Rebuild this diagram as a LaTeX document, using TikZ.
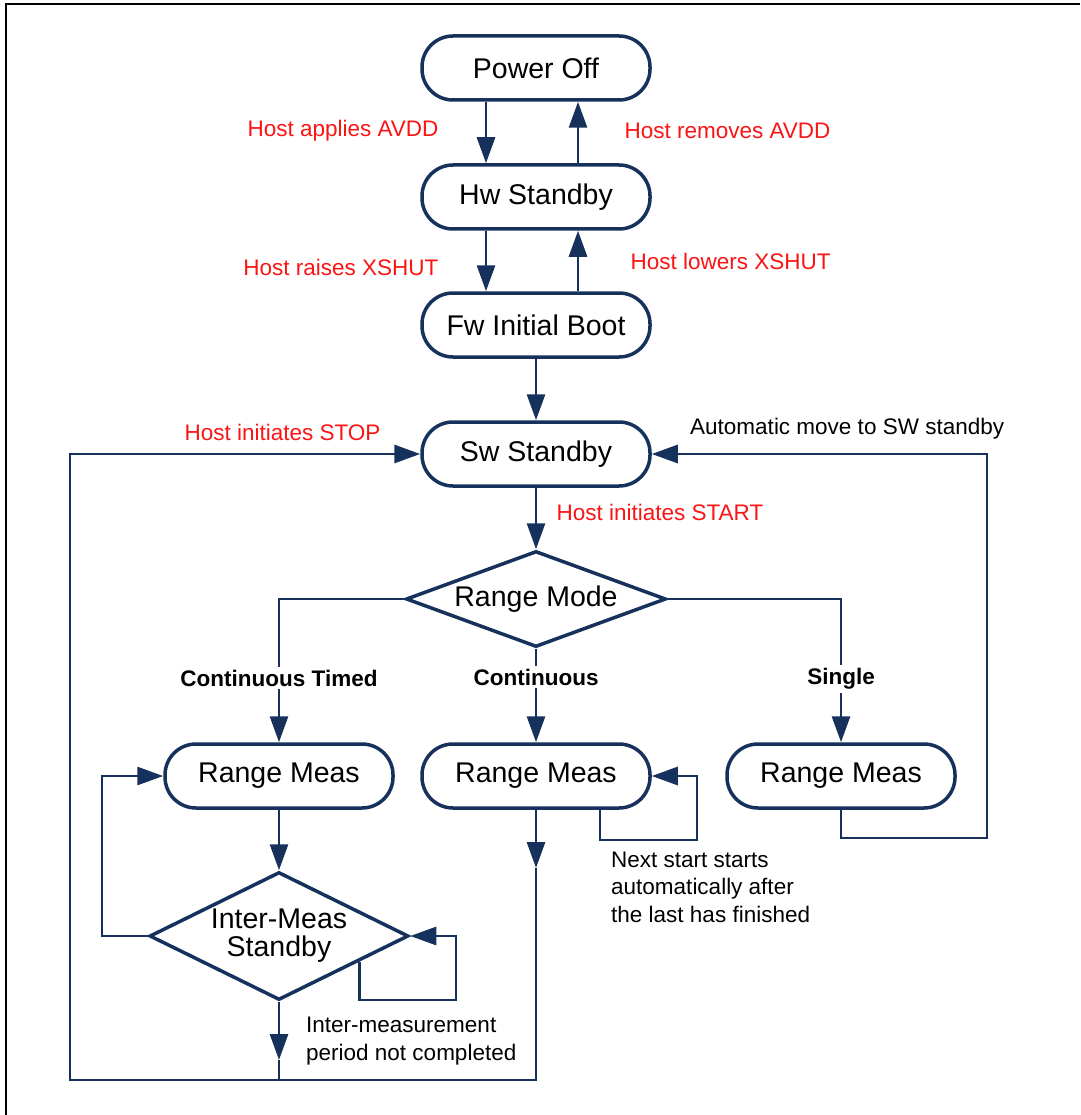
\documentclass[tikz,border=0pt]{standalone}
\usepackage{fontspec}
\setmainfont{Liberation Sans}
\usetikzlibrary{shapes.geometric, arrows.meta, calc}
\definecolor{navy}{RGB}{22,50,92}
\definecolor{hostred}{RGB}{250,20,20}
\tikzstyle{state} = [rectangle, rounded corners=31pt, minimum width=228pt, minimum height=64pt, text centered, draw=navy, line width=3.5pt, font=\fontsize{28.5}{30}\selectfont]
\tikzstyle{decision} = [diamond, aspect=2.7, inner sep=0pt, minimum width=260pt, minimum height=96pt, align=center, draw=navy, line width=3.5pt, font=\fontsize{28.5}{28}\selectfont]
\tikzstyle{arrow} = [navy, line width=2.9pt, -{Triangle[length=26pt,width=18pt]}]
\tikzstyle{line} = [navy, line width=2.9pt]
\tikzstyle{hostlabel} = [text=hostred, font=\fontsize{22.5}{26}\selectfont]
\tikzstyle{note} = [align=left, inner sep=0pt, font=\fontsize{22.5}{27.5}\selectfont]
\tikzstyle{branch} = [fill=white, inner sep=3pt, font=\fontsize{22.5}{26}\selectfont\bfseries]

\begin{document}
\begin{tikzpicture}[x=1pt, y=-1pt]
    \useasboundingbox (0,0) rectangle (1080,1115);
    \draw [line width=2.2pt] (1080,4) -- (6,4) -- (6,1115);

    \node (power-off) [state] at (536,68) {Power Off};
    \node (hw-standby) [state] at (536,197) {Hw Standby};
    \node (fw-boot) [state] at (536,325) {Fw Initial Boot};
    \node (sw-standby) [state] at (536,454) {Sw Standby};

    \node (range-mode) [decision] at (536,599) {Range Mode};

    \node (l-meas) [state] at (279,776) {Range Meas};
    \node (c-meas) [state] at (536,776) {Range Meas};
    \node (r-meas) [state] at (841,776) {Range Meas};

    \node (inter-meas) [decision, aspect=2, minimum width=259pt, minimum height=128pt] at (279,936) {Inter-Meas\\Standby};

    \coordinate (c-mid) at (536,868);
    \coordinate (i-mid) at (279,1060);
    \coordinate (bot-l) at (70,1080);
    \coordinate (bot-i) at (279,1080);
    \coordinate (bot-c) at (536,1080);

    \draw [arrow] ([xshift=-50pt]power-off.south) -- ([xshift=-50pt]hw-standby.north);
    \draw [arrow] ([xshift=42pt]hw-standby.north) -- ([xshift=42pt]power-off.south);
    \draw [arrow] ([xshift=-50pt]hw-standby.south) -- ([xshift=-50pt]fw-boot.north);
    \draw [arrow] ([xshift=42pt]fw-boot.north) -- ([xshift=42pt]hw-standby.south);
    \draw [arrow] (fw-boot) -- (sw-standby);
    \draw [arrow] (sw-standby) -- (range-mode);

    \draw [arrow] (range-mode.west) -| (l-meas.north);
    \draw [arrow] (range-mode) -- (c-meas);
    \draw [arrow] (range-mode.east) -| (r-meas.north);

    \draw [arrow] (l-meas) -- (inter-meas);
    \draw [arrow] (inter-meas.west) -- (102,936) |- (l-meas.west);
    \draw [arrow] ($(inter-meas.east)!0.39!(inter-meas.south)$) |- (456,1000) |- (inter-meas.east);
    \draw [arrow] ([xshift=64pt]c-meas.south) |- (697,840) |- (c-meas.east);
    \draw [arrow] (r-meas.south) |- (987,838) |- (sw-standby.east);

    \draw [arrow] (c-meas) -- (c-mid);
    \draw [arrow] (inter-meas) -- (i-mid);
    \draw [line] (i-mid) -- (bot-i);
    \draw [arrow] (c-mid) -- (bot-c) -- (bot-l) |- (sw-standby.west);

    \node (applies) [hostlabel, anchor=east] at (442,131) {Host applies AVDD};
    \node (removes) [hostlabel, anchor=west] at (621,131) {Host removes AVDD};
    \node (raises) [hostlabel, anchor=east] at (442,267) {Host raises XSHUT};
    \node (lowers) [hostlabel, anchor=west] at (627,261) {Host lowers XSHUT};
    \node (stop) [hostlabel, anchor=west] at (181,432) {Host initiates STOP};
    \node (start) [hostlabel, anchor=west] at (553,512) {Host initiates START};
    \node (auto) [note, anchor=west] at (690,429) {Automatic move to SW standby};

    \node (timed) [branch] at (279,678) {Continuous Timed};
    \node (cont) [branch] at (536,677) {Continuous};
    \node (single) [branch] at (841,679) {Single};

    \node (next) [note, anchor=west] at (611,887) {Next start starts\\automatically after\\the last has finished};
    \node (period) [note, anchor=west] at (306,1041) {Inter-measurement\\period not completed};
\end{tikzpicture}
\end{document}
